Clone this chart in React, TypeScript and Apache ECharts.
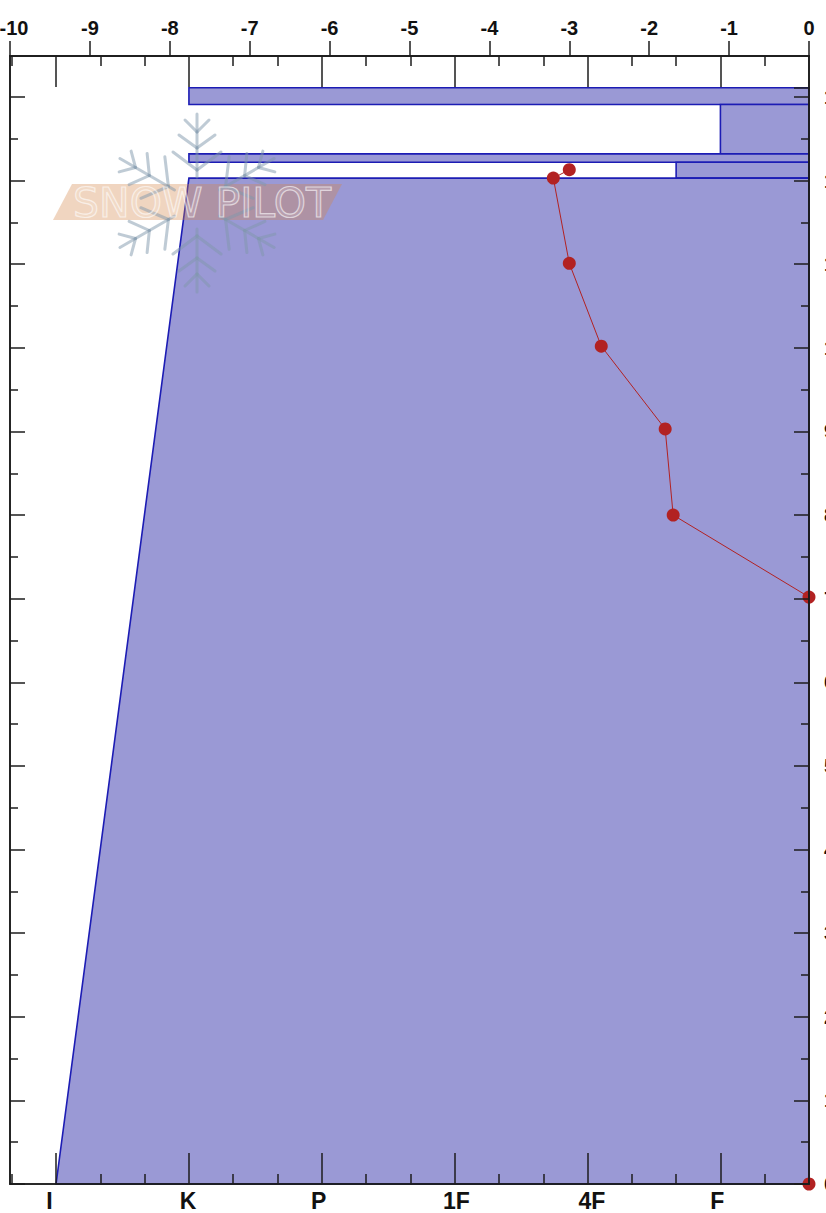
import React, { useEffect, useRef } from "react";
import * as echarts from "echarts";

const hardnessLabels = ["I", "K", "P", "1F", "4F", "F"];
const hardnessMajor = [1, 4, 7, 10, 13, 16];
const hardnessMinor = [0, 2, 3, 5, 6, 8, 9, 11, 12, 14, 15, 17];
const hardnessLabelAt = [0.85, 3.98, 6.93, 10.04, 13.1, 15.93];

const layerTop = [131.1, 129.1, 123.2, 122.2, 120.3];
const layerBottom = [129.1, 123.2, 122.2, 120.3, 0];
const layerHardTop = [4, 16, 4, 15, 4];
const layerHardBottom = [4, 16, 4, 15, 1];

const tempDepth = [121.3, 120.3, 110.1, 100.2, 90.3, 80, 70.2, 0];
const tempValue = [-3.0, -3.2, -3.0, -2.6, -1.8, -1.7, 0, 0];

const depthMajor = [0, 10, 20, 30, 40, 50, 60, 70, 80, 90, 100, 110, 120, 130];
const depthMinor = [5, 15, 25, 35, 45, 55, 65, 75, 85, 95, 105, 115, 125];
const depthSurface = [131.1];
const HARD_MIN = -0.04;
const HARD_MAX = 18;
const DEPTH_MAX = 134.9;

const INK = "#1c1c1c";
const FILL = "#9a99d5";
const STROKE = "#1c1cb4";
const RED = "#b22222";

const flakeColor = "#7f97ac";
const flakeChevrons = [
  [71, 12, 83],
  [55, 18, 68],
  [33, 24, 51],
];

function flakeArms() {
  const children: any[] = [];
  for (let i = 0; i < 6; i++) {
    const lines: any[] = [{ x1: 0, y1: -26, x2: 0, y2: -89 }];
    flakeChevrons.forEach(([b, w, t]) => {
      lines.push({ x1: 0, y1: -b, x2: -w, y2: -t });
      lines.push({ x1: 0, y1: -b, x2: w, y2: -t });
    });
    children.push({
      type: "group",
      rotation: (i * Math.PI) / 3,
      children: lines.map((shape) => ({
        type: "line",
        z: 100,
        shape,
        style: { stroke: flakeColor, lineWidth: 3, opacity: 0.5, lineCap: "round" },
      })),
    });
  }
  return children;
}

const axisLine = { show: true, onZero: false, lineStyle: { color: INK, width: 1.6 } };

export default function App() {
  const ref = useRef<HTMLDivElement>(null);
  useEffect(() => {
    document.body.style.margin = "0";
    const chart = echarts.init(ref.current!, undefined, { renderer: "svg" });
    const hardBase = {
      type: "value",
      min: HARD_MIN,
      max: HARD_MAX,
      z: 5,
      axisLine,
      splitLine: { show: false },
    };
    const depthBase = {
      type: "value",
      min: 0,
      max: DEPTH_MAX,
      z: 5,
      axisLine,
      splitLine: { show: false },
      axisLabel: { show: false },
    };
    const major = { show: true, inside: true, length: 31, customValues: hardnessMajor, lineStyle: { color: INK, width: 1.5 } };
    const minor = { show: true, inside: true, length: 10, customValues: hardnessMinor, lineStyle: { color: INK, width: 1.5 } };
    const dMajor = { show: true, inside: true, length: 15, customValues: depthMajor, lineStyle: { color: INK, width: 1.5 } };
    const dMajorRight = { ...dMajor, customValues: [...depthMajor, ...depthSurface] };
    const dMinor = { show: true, inside: true, length: 8, customValues: depthMinor, lineStyle: { color: INK, width: 1.5 } };
    chart.setOption({
      animation: false,
      grid: { left: 10, top: 56, width: 799, height: 1128, containLabel: false, outerBoundsMode: "none" },
      xAxis: [
        {
          ...hardBase,
          position: "bottom",
          axisTick: major,
          axisLabel: {
            show: true,
            customValues: hardnessLabelAt,
            margin: 5,
            fontFamily: "Liberation Sans",
            fontSize: 23,
            fontWeight: "bold",
            color: "#111",
            formatter: (v: number) => hardnessLabels[hardnessLabelAt.indexOf(v)],
          },
        },
        { ...hardBase, position: "bottom", axisTick: minor, axisLabel: { show: false } },
        { ...hardBase, position: "top", axisTick: major, axisLabel: { show: false } },
        { ...hardBase, position: "top", axisTick: minor, axisLabel: { show: false } },
        {
          type: "value",
          position: "top",
          min: -10,
          max: 0,
          interval: 1,
          z: 5,
          axisLine,
          splitLine: { show: false },
          axisTick: { show: true, inside: false, length: 15, lineStyle: { color: INK, width: 1.5 } },
          axisLabel: {
            show: true,
            margin: 18,
            fontFamily: "Liberation Sans",
            fontSize: 20,
            fontWeight: "bold",
            color: "#111",
            formatter: (v: number) => (v === -10 ? "{shift|-10}" : String(v)),
            rich: {
              shift: {
                fontFamily: "Liberation Sans",
                fontSize: 20,
                fontWeight: "bold",
                color: "#111",
                padding: [0, 0, 0, 8],
              },
            },
          },
        },
      ],
      yAxis: [
        { ...depthBase, position: "left", axisTick: dMajor },
        { ...depthBase, position: "left", axisTick: dMinor },
        {
          ...depthBase,
          position: "right",
          axisTick: dMajorRight,
          axisLabel: {
            show: true,
            customValues: depthMajor,
            margin: 15,
            fontFamily: "Liberation Sans",
            fontSize: 20,
            fontWeight: "bold",
            color: "#111",
          },
        },
        { ...depthBase, position: "right", axisTick: dMinor },
      ],
      series: [
        {
          type: "custom",
          xAxisIndex: 0,
          yAxisIndex: 0,
          z: 1,
          clip: false,
          data: layerTop.map((t, i) => [t, layerBottom[i], layerHardTop[i], layerHardBottom[i]]),
          renderItem: (_p: any, api: any) => {
            const tl = api.coord([api.value(2), api.value(0)]);
            const bl = api.coord([api.value(3), api.value(1)]);
            const tr = api.coord([HARD_MAX, api.value(0)]);
            const br = api.coord([HARD_MAX, api.value(1)]);
            return {
              type: "polygon",
              shape: { points: [tl, tr, br, bl] },
              style: { fill: FILL, stroke: STROKE, lineWidth: 1.6 },
            };
          },
        },
        {
          type: "line",
          xAxisIndex: 4,
          yAxisIndex: 0,
          z: 4,
          clip: false,
          data: tempValue.map((v, i) => [v, tempDepth[i]]),
          symbol: "circle",
          symbolSize: 13,
          showSymbol: true,
          lineStyle: { color: RED, width: 1 },
          itemStyle: { color: RED },
        },
      ],
      graphic: [
        {
          type: "polygon",
          z: 100,
          shape: { points: [[72, 184], [342, 184], [323, 220], [53, 220]] },
          style: { fill: "rgba(212,135,74,0.35)" },
        },
        { type: "group", x: 197, y: 203, children: flakeArms() },
        {
          type: "text",
          z: 101,
          x: 202,
          y: 203,
          style: {
            text: "SNOW PILOT",
            fontFamily: "DejaVu Sans",
            fontSize: 41,
            textAlign: "center",
            textVerticalAlign: "middle",
            fill: "rgba(255,255,255,0.15)",
            stroke: "rgba(255,255,255,0.6)",
            lineWidth: 1.2,
          },
        },
      ],
    });
    return () => chart.dispose();
  }, []);
  return <div ref={ref} style={{ width: 826, height: 1213 }} />;
}
